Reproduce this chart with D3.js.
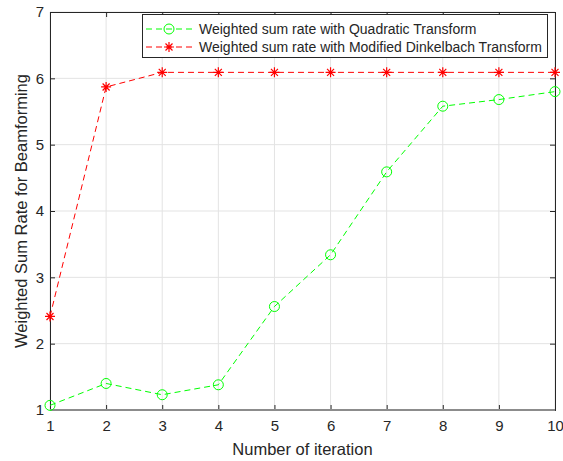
<!DOCTYPE html>
<html>
<head>
<meta charset="utf-8">
<script src="https://cdn.jsdelivr.net/npm/d3@7"></script>
<style>
  body { margin: 0; background: #fff; }
  text { font-family: "Liberation Sans", Arial, sans-serif; fill: #262626; }
</style>
</head>
<body>
<div id="chart"></div>
<script>
var svgWidth = 563;
var svgHeight = 461;

var margin = { top: 12, right: 8, bottom: 51, left: 50 };
var width = svgWidth - margin.left - margin.right;
var height = svgHeight - margin.top - margin.bottom;

// data
var iterations = [1, 2, 3, 4, 5, 6, 7, 8, 9, 10];
var quadratic = [1.07, 1.40, 1.23, 1.38, 2.56, 3.34, 4.59, 5.58, 5.68, 5.80];
var dinkelbach = [2.41, 5.87, 6.09, 6.09, 6.09, 6.09, 6.09, 6.09, 6.09, 6.09];
var yTicks = [1, 2, 3, 4, 5, 6, 7];
var seriesNames = ["Weighted sum rate with Quadratic Transform",
  "Weighted sum rate with Modified Dinkelbach Transform"];

var svg = d3.select("#chart").append("svg")
  .attr("width", svgWidth)
  .attr("height", svgHeight);

var chartGroup = svg.append("g")
  .attr("transform", `translate(${margin.left}, ${margin.top})`);

var x = d3.scaleLinear().domain([1, 10]).range([0, width]);
var y = d3.scaleLinear().domain([1, 7]).range([height, 0]);

// grid
chartGroup.append("g").selectAll("line")
  .data(iterations).enter().append("line")
  .attr("x1", d => x(d)).attr("x2", d => x(d))
  .attr("y1", 0).attr("y2", height)
  .attr("stroke", "#e3e3e3").attr("stroke-width", 1);
chartGroup.append("g").selectAll("line")
  .data(yTicks).enter().append("line")
  .attr("y1", d => y(d)).attr("y2", d => y(d))
  .attr("x1", 0).attr("x2", width)
  .attr("stroke", "#e3e3e3").attr("stroke-width", 1);

// axes
var bottomAxis = d3.axisBottom(x).tickValues(iterations).tickSize(-5).tickPadding(10).tickFormat(d3.format("d"));
var leftAxis = d3.axisLeft(y).tickValues(yTicks).tickSize(-5).tickPadding(6).tickFormat(d3.format("d"));
var topAxis = d3.axisTop(x).tickValues(iterations).tickSize(-5).tickFormat("");
var rightAxis = d3.axisRight(y).tickValues(yTicks).tickSize(-5).tickFormat("");

function styleAxis(g) {
  g.selectAll("path").attr("stroke", "#262626");
  g.selectAll("line").attr("stroke", "#262626");
  g.selectAll("text").style("font-size", "15px").attr("fill", "#262626");
}

chartGroup.append("g").attr("transform", `translate(0, ${height})`).call(bottomAxis).call(styleAxis);
chartGroup.append("g").call(leftAxis).call(styleAxis);
chartGroup.append("g").call(topAxis).call(styleAxis);
chartGroup.append("g").attr("transform", `translate(${width}, 0)`).call(rightAxis).call(styleAxis);

// bottom axis drawn heavier/gray like the reference
chartGroup.append("line")
  .attr("x1", 0).attr("x2", width).attr("y1", height).attr("y2", height)
  .attr("stroke", "#8c8c8c").attr("stroke-width", 2);

// lines
var line = d3.line().x((d, i) => x(iterations[i])).y(d => y(d));

chartGroup.append("path")
  .datum(quadratic)
  .attr("d", line)
  .attr("fill", "none")
  .attr("stroke", "#00ff00")
  .attr("stroke-width", 1)
  .attr("stroke-dasharray", "6,4");

chartGroup.append("path")
  .datum(dinkelbach)
  .attr("d", line)
  .attr("fill", "none")
  .attr("stroke", "#ff0000")
  .attr("stroke-width", 1)
  .attr("stroke-dasharray", "6,4");

// markers
function circleMarker(g, cx, cy) {
  g.append("circle").attr("cx", cx).attr("cy", cy).attr("r", 5)
    .attr("fill", "none").attr("stroke", "#00ff00").attr("stroke-width", 1);
}
function starMarker(g, cx, cy) {
  var s = 5;
  var path = `M${cx - s},${cy}L${cx + s},${cy}M${cx},${cy - s}L${cx},${cy + s}` +
    `M${cx - s * 0.7},${cy - s * 0.7}L${cx + s * 0.7},${cy + s * 0.7}` +
    `M${cx - s * 0.7},${cy + s * 0.7}L${cx + s * 0.7},${cy - s * 0.7}`;
  g.append("path").attr("d", path).attr("stroke", "#ff0000").attr("stroke-width", 1.2);
}

var markerGroup = chartGroup.append("g");
quadratic.forEach((d, i) => circleMarker(markerGroup, x(iterations[i]), y(d)));
dinkelbach.forEach((d, i) => starMarker(markerGroup, x(iterations[i]), y(d)));

// axis labels
svg.append("text")
  .attr("x", margin.left + width / 2)
  .attr("y", 455)
  .attr("text-anchor", "middle")
  .style("font-size", "16.5px")
  .text("Number of iteration");

svg.append("text")
  .attr("transform", `translate(27, ${margin.top + height / 2}) rotate(-90)`)
  .attr("text-anchor", "middle")
  .style("font-size", "16.5px")
  .text("Weighted Sum Rate for Beamforming");

// legend
var legend = svg.append("g");
legend.append("rect")
  .attr("x", 142.5).attr("y", 14.5)
  .attr("width", 405).attr("height", 43)
  .attr("fill", "#fff").attr("stroke", "#262626").attr("stroke-width", 1);

var legendColors = ["#00ff00", "#ff0000"];
seriesNames.forEach(function(name, i) {
  var ly = 29 + i * 18;
  legend.append("line")
    .attr("x1", 146).attr("x2", 193).attr("y1", ly).attr("y2", ly)
    .attr("stroke", legendColors[i]).attr("stroke-dasharray", "6,4");
  if (i === 0) circleMarker(legend, 169, ly);
  else starMarker(legend, 169, ly);
  legend.append("text")
    .attr("x", 199).attr("y", ly + 5)
    .style("font-size", "14px")
    .text(name);
});
</script>
</body>
</html>
